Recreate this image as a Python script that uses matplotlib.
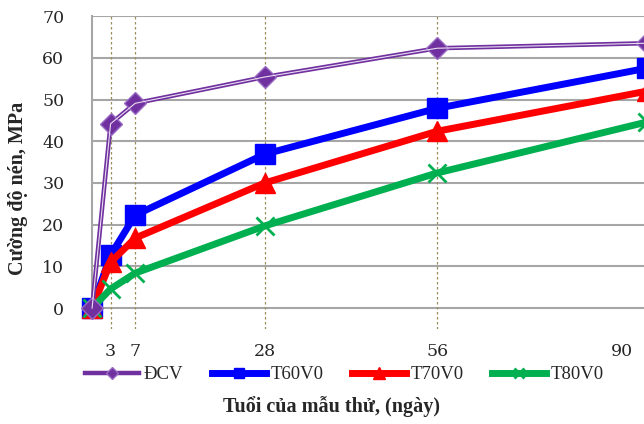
import matplotlib
matplotlib.use("Agg")
from matplotlib import pyplot as plt

# age of specimens (days) and compressive strength (MPa)
days = [0, 3, 7, 28, 56, 90]
dcv = [0, 44.2, 49.1, 55.4, 62.3, 63.5]
t60v0 = [0, 12.7, 22.3, 36.9, 47.9, 57.5]
t70v0 = [0, 11.0, 16.8, 30.0, 42.4, 52.0]
t80v0 = [0, 4.6, 8.4, 19.7, 32.4, 44.6]
y_ticks = [0, 10, 20, 30, 40, 50, 60, 70]

plt.rcParams['font.family'] = ['Liberation Serif', 'DejaVu Serif']
num_font = {'family': 'DejaVu Serif', 'size': 12.5}

fig = plt.figure(figsize=(6.44, 4.24), dpi=100)
ax = fig.add_axes([0.143, 0.224, 0.861, 0.738])
ax.set_xlim(0, 90)
ax.set_ylim(-5, 70)

# horizontal grid + guide lines at each test age
for v in y_ticks:
    ax.axhline(v, color='#a6a6a6', lw=1.5, zorder=1)
ax.vlines(days[1:], -5, 70, colors='#9c8c58', linestyles=(0, (2, 2)), lw=0.9, zorder=1)

ax.plot(days, dcv, color='#7030a0', lw=3.2, marker='D', ms=11, mfc='#7030a0', mec='#9b6cc4',
        mew=1, label='ĐCV', zorder=5, clip_on=False)
ax.plot(days, dcv, color='#e8def0', lw=0.8, zorder=5, clip_on=False)
ax.plot(days, t60v0, color='#0000ff', lw=5, marker='s', ms=14, label='T60V0', zorder=4, clip_on=False)
ax.plot(days, t70v0, color='#ff0000', lw=5, marker='^', ms=15, label='T70V0', zorder=4, clip_on=False)
ax.plot(days, t80v0, color='#00b050', lw=5, marker='x', ms=13, mew=2, label='T80V0', zorder=4, clip_on=False)

for s in ['top', 'right', 'bottom']:
    ax.spines[s].set_visible(False)
ax.spines['left'].set_color('#a6a6a6')
ax.spines['left'].set_linewidth(1.5)
ax.spines['left'].set_bounds(0, 70)

ax.set_yticks(y_ticks)
ax.set_yticklabels([str(v) for v in y_ticks], fontdict=num_font, color='#262626')
ax.tick_params(axis='y', length=0, pad=20)
ax.set_xticks([])

# day labels under the guide lines
for d in days[1:]:
    if d == days[-1]:
        ax.text(d - 2.2, -10.3, str(d), ha='right', va='center', fontdict=num_font,
                color='#262626', clip_on=False)
    else:
        ax.text(d, -10.5, str(d), ha='center', va='center', fontdict=num_font,
                color='#262626', clip_on=False)

ax.set_ylabel('Cường độ nén, MPa', fontsize=14.5, fontweight='bold', color='#262626')
ax.yaxis.set_label_coords(-0.115, 0.45)
fig.text(0.515, 0.042, 'Tuổi của mẫu thử, (ngày)', ha='center', va='center',
         fontsize=14.5, fontweight='bold', color='#262626')

fig.legend(loc='center', bbox_to_anchor=(0.535, 0.116), ncol=4, frameon=False,
           fontsize=13.5, handlelength=2.9, markerscale=0.55, columnspacing=1.5,
           handletextpad=0.25, labelcolor='#262626')

fig.savefig('out.png', dpi=100)
